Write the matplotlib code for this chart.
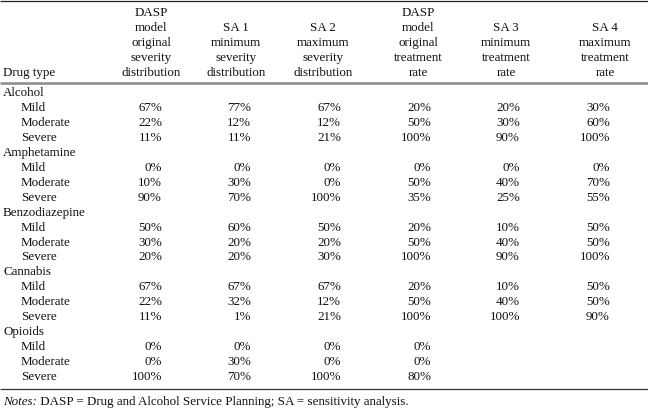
import matplotlib
matplotlib.use("Agg")
import matplotlib.pyplot as plt

# ---- data ----
drug_types = ["Alcohol", "Amphetamine", "Benzodiazepine", "Cannabis", "Opioids"]
severity_levels = ["Mild", "Moderate", "Severe"]
col_headers = [
    "DASP\nmodel\noriginal\nseverity\ndistribution",
    "SA 1\nminimum\nseverity\ndistribution",
    "SA 2\nmaximum\nseverity\ndistribution",
    "DASP\nmodel\noriginal\ntreatment\nrate",
    "SA 3\nminimum\ntreatment\nrate",
    "SA 4\nmaximum\ntreatment\nrate",
]
dasp_severity = [67, 22, 11, 0, 10, 90, 50, 30, 20, 67, 22, 11, 0, 0, 100]
sa1_min_severity = [77, 12, 11, 0, 30, 70, 60, 20, 20, 67, 32, 1, 0, 30, 70]
sa2_max_severity = [67, 12, 21, 0, 0, 100, 50, 20, 30, 67, 12, 21, 0, 0, 100]
dasp_treatment = [20, 50, 100, 0, 50, 35, 20, 50, 100, 20, 50, 100, 0, 0, 80]
sa3_min_treatment = [20, 30, 90, 0, 40, 25, 10, 40, 90, 10, 40, 100, None, None, None]
sa4_max_treatment = [30, 60, 100, 0, 70, 55, 50, 50, 100, 50, 50, 90, None, None, None]
notes_label = "Notes:"
notes_text = " DASP = Drug and Alcohol Service Planning; SA = sensitivity analysis."

columns = [dasp_severity, sa1_min_severity, sa2_max_severity,
           dasp_treatment, sa3_min_treatment, sa4_max_treatment]

# ---- layout ----
W, H = 648, 409
fig = plt.figure(figsize=(W / 100, H / 100), dpi=100)
ax = fig.add_axes([0, 0, 1, 1])
ax.set_xlim(0, W)
ax.set_ylim(H, 0)
ax.axis("off")

FONT = "Liberation Serif"
FS = 9.4
TXT = "#111111"

col_right = [162, 251, 341, 431, 520, 610]
col_head_center = [151, 236, 323, 418, 506, 605]
row_h = 14.95
header_bottom = 73
first_row = 93

# rules
ax.plot([0, W], [1.0, 1.0], color="#222222", lw=0.9, solid_capstyle="butt")
ax.plot([0, W], [82.5, 82.5], color="#8a8a8a", lw=1.8, solid_capstyle="butt")
ax.plot([0, W], [389, 389], color="#333333", lw=0.9, solid_capstyle="butt")

# header
ax.text(3, header_bottom, "Drug type", ha="left", va="center",
        fontsize=FS, family=FONT, color=TXT)
for cx, head in zip(col_head_center, col_headers):
    lines = head.split("\n")
    for k, line in enumerate(reversed(lines)):
        ax.text(cx, header_bottom - k * row_h, line, ha="center", va="center",
                fontsize=FS, family=FONT, color=TXT)

# body
r = 0
idx = 0
for drug in drug_types:
    y = first_row + r * row_h
    ax.text(3, y, drug, ha="left", va="center", fontsize=FS, family=FONT, color=TXT)
    r += 1
    for sev in severity_levels:
        y = first_row + r * row_h
        ax.text(21, y, sev, ha="left", va="center", fontsize=FS, family=FONT, color=TXT)
        for xr, col in zip(col_right, columns):
            v = col[idx]
            if v is not None:
                ax.text(xr, y, f"{v}%", ha="right", va="center",
                        fontsize=FS, family=FONT, color=TXT)
        r += 1
        idx += 1

# notes
fig.canvas.draw()
t1 = ax.text(3, 402, notes_label, ha="left", va="center", fontsize=FS,
             family=FONT, style="italic", color=TXT)
renderer = fig.canvas.get_renderer()
bb = t1.get_window_extent(renderer)
x_end = ax.transData.inverted().transform((bb.x1, bb.y0))[0]
ax.text(x_end, 402, notes_text, ha="left", va="center", fontsize=FS,
        family=FONT, color=TXT)

fig.savefig("out.png", dpi=100)
